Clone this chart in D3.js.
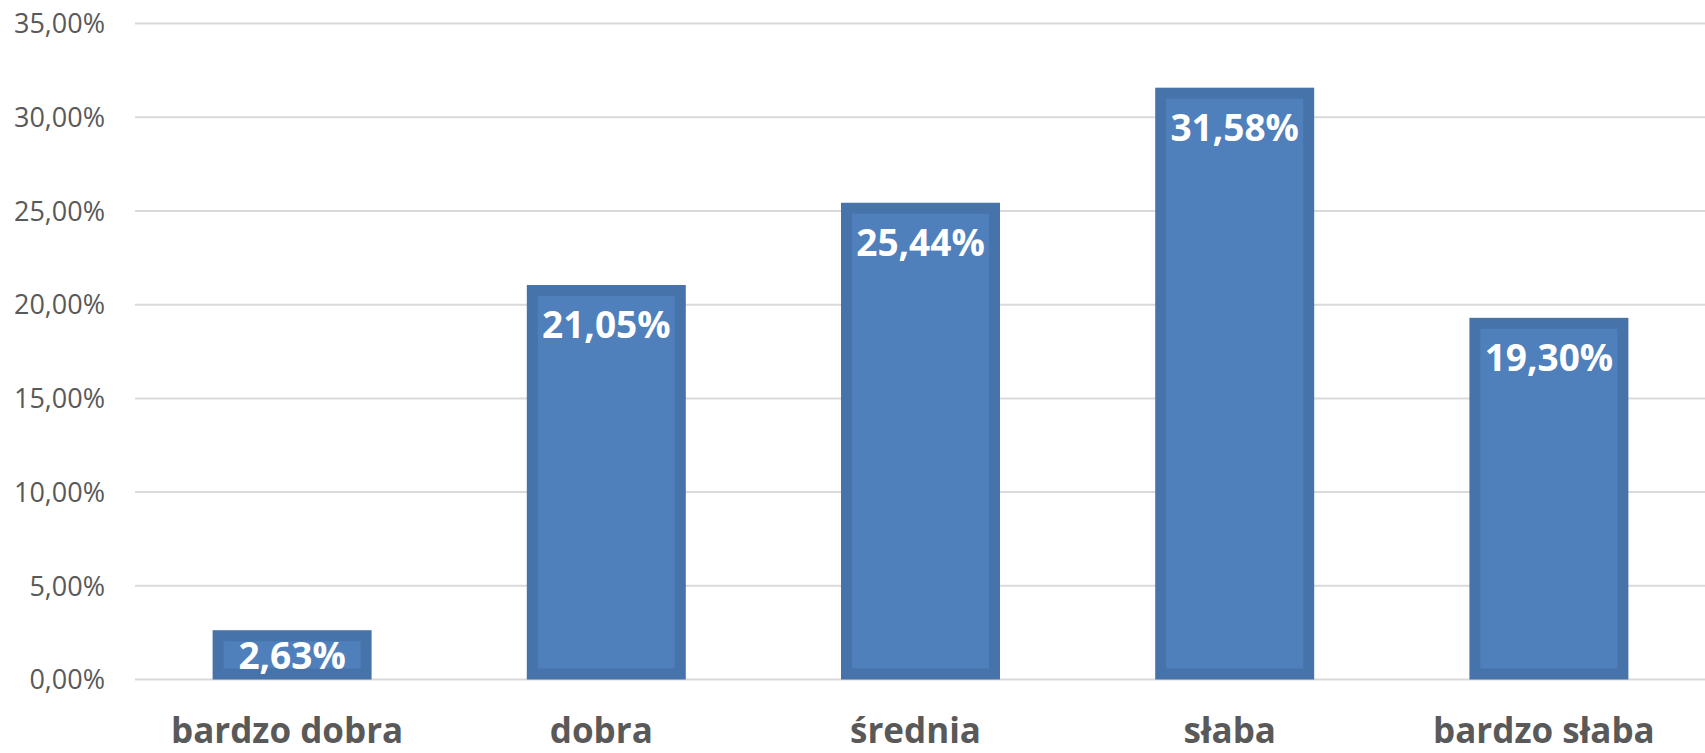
<!DOCTYPE html>
<html>
<head>
<meta charset="utf-8">
<script src="https://cdn.jsdelivr.net/npm/d3@7"></script>
<style>
  body { margin: 0; background: #fff; }
  svg { display: block; }
</style>
</head>
<body>
<svg width="1705" height="753"></svg>
<script>
// chart values
var categories = ['bardzo dobra', 'dobra', 'średnia', 'słaba', 'bardzo słaba'];
var values = [2.63, 21.05, 25.44, 31.58, 19.30];
var ticks = [0, 5, 10, 15, 20, 25, 30, 35];

var fmt = function(v){
	return v.toFixed(2).replace('.', ',') + '%';
};

var svg = d3.select('svg');

var x = d3.scaleBand()
	.domain(categories)
	.range([135, 1706])
	.paddingInner(0.494)
	.paddingOuter(0.247);

var y = d3.scaleLinear()
	.domain([0, 35])
	.range([679.5, 23.6]);

// gridlines
svg.append('g').selectAll('line')
	.data(ticks)
	.enter().append('line')
	.attr('x1', 135)
	.attr('x2', 1705)
	.attr('y1', function(d){ return y(d); })
	.attr('y2', function(d){ return y(d); })
	.attr('stroke', '#d9d9d9')
	.attr('stroke-width', 2);

// y tick labels
svg.append('g').selectAll('text')
	.data(ticks)
	.enter().append('text')
	.attr('x', 105)
	.attr('y', function(d){ return y(d); })
	.attr('dy', '0.36em')
	.attr('text-anchor', 'end')
	.attr('font-family', 'Open Sans')
	.attr('font-size', 27)
	.attr('fill', '#595959')
	.text(fmt);

// bars (dark outer edge, lighter inside)
var sw = 11;
svg.append('g').selectAll('rect')
	.data(values)
	.enter().append('rect')
	.attr('x', function(d, i){ return x(categories[i]) + sw/2; })
	.attr('y', function(d){ return y(d) + sw/2; })
	.attr('width', x.bandwidth() - sw)
	.attr('height', function(d){ return y(0) - y(d) - sw; })
	.attr('fill', '#4f80bc')
	.attr('stroke', '#4673a9')
	.attr('stroke-width', sw);

// value labels
svg.append('g').selectAll('text')
	.data(values)
	.enter().append('text')
	.attr('x', function(d, i){ return x(categories[i]) + x.bandwidth()/2; })
	.attr('y', function(d){ return Math.min(y(d) + 53, y(0) - 11); })
	.attr('text-anchor', 'middle')
	.attr('font-family', 'Open Sans')
	.attr('font-weight', 'bold')
	.attr('font-size', 37)
	.attr('fill', '#ffffff')
	.text(fmt);

// category labels
svg.append('g').selectAll('text')
	.data(categories)
	.enter().append('text')
	.attr('x', function(d){ return x(d) + x.bandwidth()/2 - 5; })
	.attr('y', 743)
	.attr('text-anchor', 'middle')
	.attr('font-family', 'Open Sans')
	.attr('font-weight', 'bold')
	.attr('font-size', 35)
	.attr('fill', '#595959')
	.text(function(d){ return d; });
</script>
</body>
</html>
